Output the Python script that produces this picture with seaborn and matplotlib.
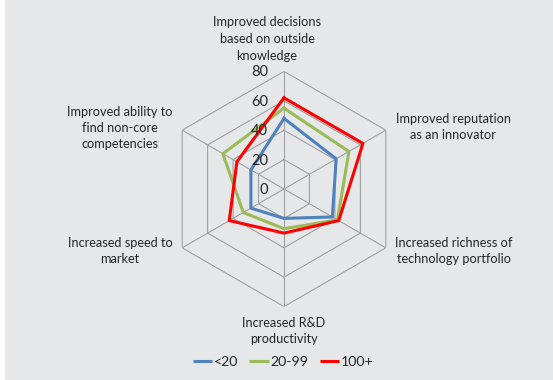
"""Radar chart: benefits of open innovation by company size group."""
import matplotlib.pyplot as plt
import numpy as np
import pandas as pd
import seaborn as sns
from matplotlib.lines import Line2D
from matplotlib.patches import Rectangle

categories = [
    "Improved decisions\nbased on outside\nknowledge",
    "Improved reputation\nas an innovator",
    "Increased richness of\ntechnology portfolio",
    "Increased R&D\nproductivity",
    "Increased speed to\nmarket",
    "Improved ability to\nfind non-core\ncompetencies",
]
groups = ["<20", "20-99", "100+"]
small = [48, 41, 38, 20, 26, 26]
medium = [55, 51, 42, 27, 32, 48]
large = [62, 62, 43, 30, 43, 37]
ring_ticks = [0, 20, 40, 60, 80]

colors = {"<20": "#4F81BD", "20-99": "#9BBB59", "100+": "#FF0000"}
bg = "#E6E7E9"
W, H = 553, 380

angles = np.linspace(0, 2 * np.pi, len(categories), endpoint=False)
closed = np.append(angles, 2 * np.pi)
rows = []
for name, vals in zip(groups, [small, medium, large]):
    for t, v in zip(closed, list(vals) + [vals[0]]):
        rows.append({"group": name, "theta": t, "value": v})
df = pd.DataFrame(rows)

plt.rcParams["font.family"] = ["Lato", "DejaVu Sans"]
fig = plt.figure(figsize=(W / 100, H / 100), dpi=100, facecolor="white")
fig.patches.append(Rectangle((5 / W, 0), 1 - 5 / W, 1, transform=fig.transFigure,
                             facecolor=bg, edgecolor="none", zorder=-10))

cx, cy, rad = 284, 189, 117.6
ax = fig.add_axes([(cx - rad) / W, (H - cy - rad) / H, 2 * rad / W, 2 * rad / H],
                  projection="polar")
ax.set_facecolor("none")
ax.set_theta_zero_location("N")
ax.set_theta_direction(-1)
ax.set_ylim(0, 80)
ax.grid(False)
ax.spines["polar"].set_visible(False)
ax.set_xticks([])
ax.set_yticks([])

# hexagonal web
ring_theta = np.append(angles, angles[0])
for r in ring_ticks[1:]:
    ax.plot(ring_theta, [r] * len(ring_theta), color="#A0A0A0", lw=0.8, zorder=1)
for a in angles:
    ax.plot([a, a], [0, ring_ticks[-1]], color="#A0A0A0", lw=0.8, zorder=1)

sns.lineplot(data=df, x="theta", y="value", hue="group", hue_order=groups,
             palette=colors, estimator=None, sort=False, lw=2.2, ax=ax, zorder=3)
ax.set_xlabel("")
ax.set_ylabel("")
ax.get_legend().remove()

# radial scale labels
for r in ring_ticks:
    fig.text((cx - 16) / W, 1 - (cy - r / 80 * rad + 1) / H, str(r),
             ha="right", va="center", fontsize=10.5, color="#262626")

label_pos = [(267, 39), (453, 127), (454, 251), (284, 331), (120, 251), (120, 128)]
for text, (px, py) in zip(categories, label_pos):
    fig.text(px / W, 1 - py / H, text, ha="center", va="center",
             fontsize=9.2, color="#262626", linespacing=1.45)

handles = [Line2D([], [], color=colors[g], lw=2.2, solid_capstyle="butt") for g in groups]
fig.legend(handles, groups, loc="center", bbox_to_anchor=(283 / W, 1 - 362 / H),
           ncol=3, frameon=False, fontsize=10.2, handlelength=1.35,
           handletextpad=0.12, columnspacing=0.8, labelcolor="#262626")

fig.savefig("out.png", dpi=100, facecolor=fig.get_facecolor())
